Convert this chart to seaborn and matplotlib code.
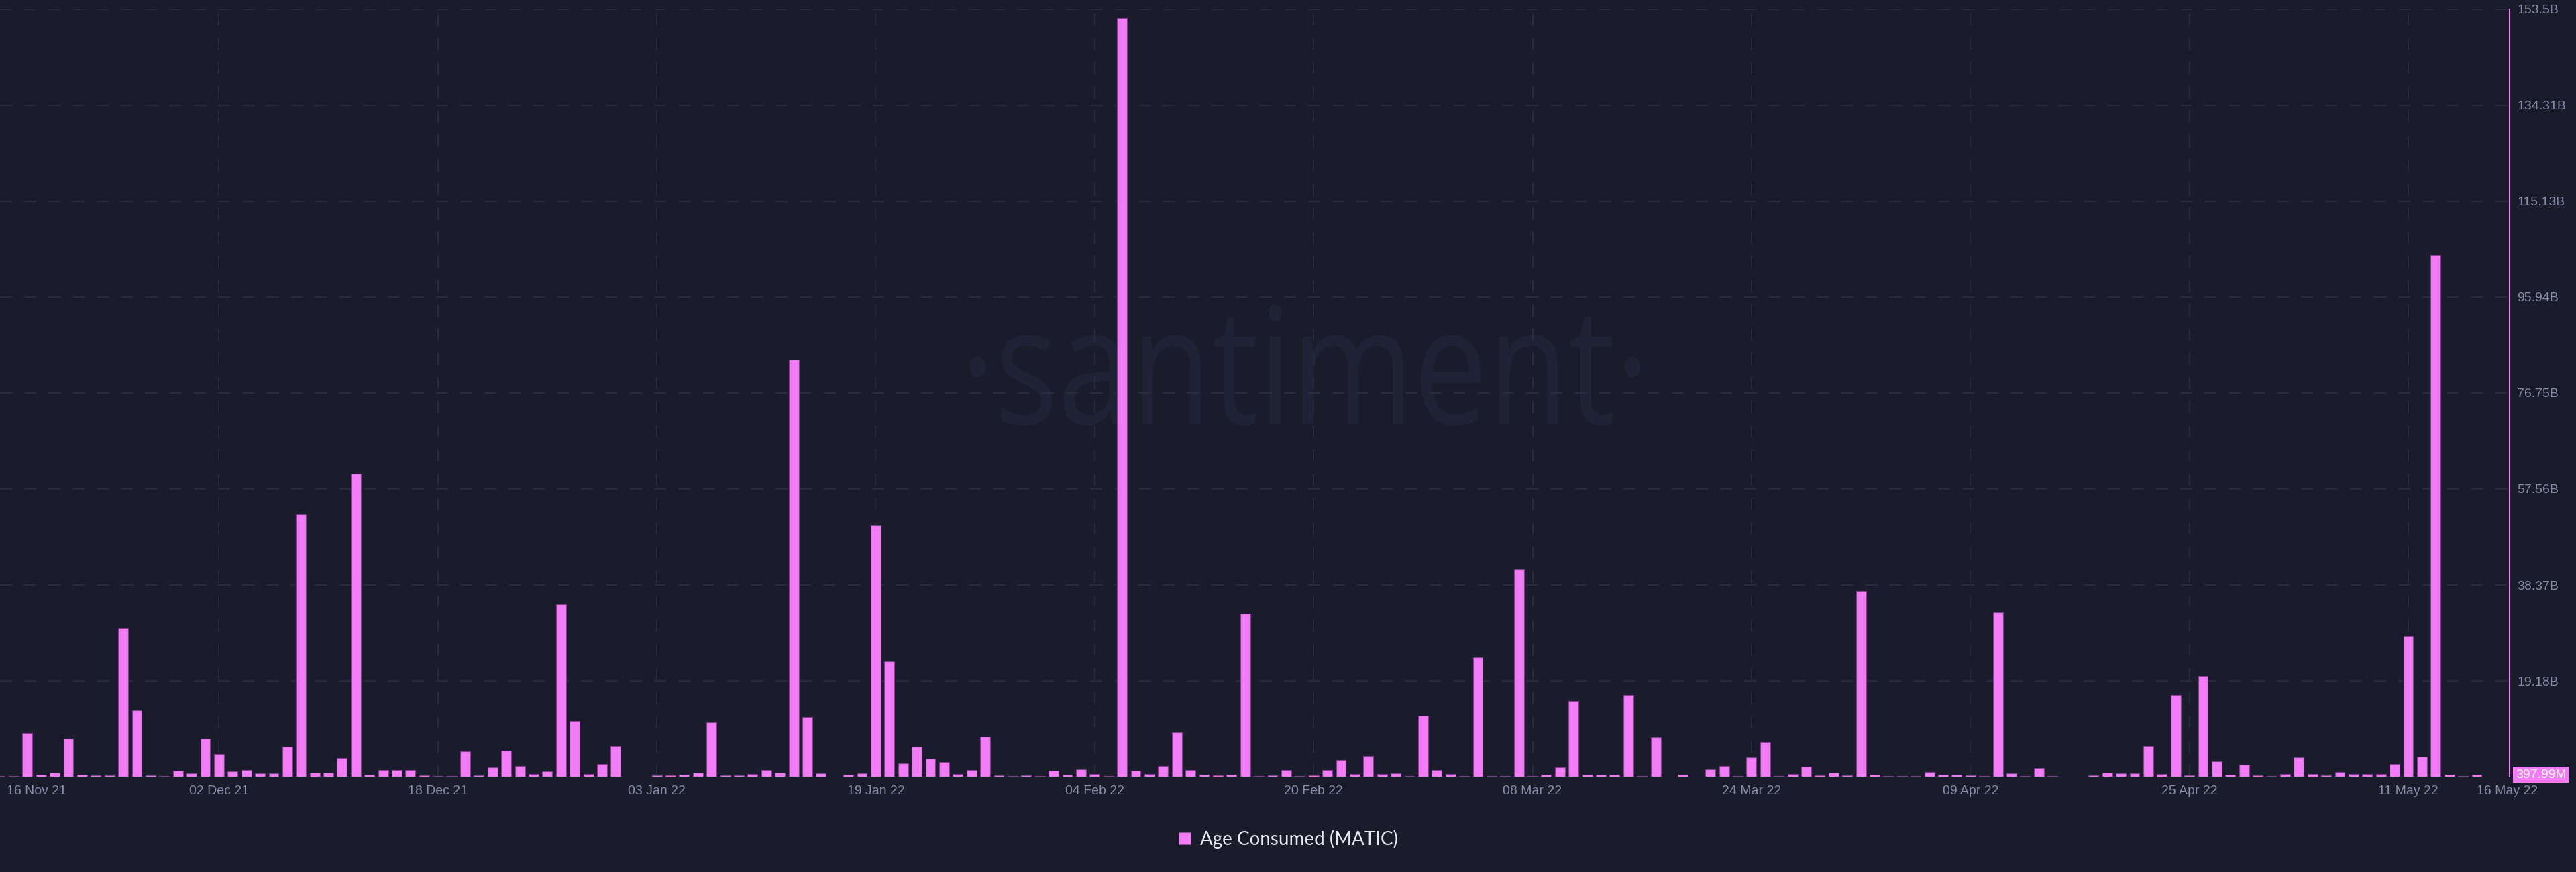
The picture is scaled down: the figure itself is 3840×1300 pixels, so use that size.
# Age Consumed (MATIC) daily bars, Santiment dark style
import pandas as pd
import seaborn as sns
import matplotlib
matplotlib.use("Agg")
from matplotlib import pyplot as plt
from matplotlib.lines import Line2D
from matplotlib.textpath import TextPath
from matplotlib.patches import PathPatch
from matplotlib.font_manager import FontProperties
from matplotlib.transforms import ScaledTranslation, Affine2D, IdentityTransform

# one bar per day, 16 Nov 21 .. 16 May 22, values in billions
dates = pd.date_range("2021-11-16", "2022-05-16", freq="D").strftime("%Y-%m-%d")
age_consumed = [
    0.2, 0.2, 8.7, 0.36, 0.85, 7.6, 0.4, 0.22, 0.3, 29.8,
    13.3, 0.3, 0.2, 1.16, 0.67, 7.7, 4.5, 1.07, 1.34, 0.71,
    0.71, 6.0, 52.4, 0.76, 0.76, 3.8, 60.6, 0.45, 1.4, 1.4,
    1.4, 0.3, 0.1, 0.1, 5.1, 0.27, 1.9, 5.2, 2.1, 0.58,
    1.03, 34.5, 11.1, 0.54, 2.6, 6.2, 0.05, 0.05, 0.22, 0.22,
    0.36, 0.85, 10.9, 0.31, 0.22, 0.58, 1.38, 0.85, 83.5, 12.0,
    0.71, 0.04, 0.4, 0.63, 50.3, 23.1, 2.7, 6.1, 3.6, 3.0,
    0.54, 1.3, 8.0, 0.22, 0.18, 0.31, 0.18, 1.16, 0.36, 1.43,
    0.49, 0.09, 151.8, 1.16, 0.49, 2.1, 8.9, 1.3, 0.45, 0.22,
    0.36, 32.6, 0.18, 0.31, 1.3, 0.18, 0.22, 1.38, 3.4, 0.58,
    4.15, 0.58, 0.67, 0.09, 12.2, 1.38, 0.49, 0.13, 23.9, 0.09,
    0.09, 41.5, 0.18, 0.4, 1.9, 15.1, 0.36, 0.45, 0.45, 16.4,
    0.09, 7.9, 0.04, 0.45, 0.0, 1.47, 2.1, 0.18, 3.9, 7.0,
    0.13, 0.49, 2.0, 0.31, 0.76, 0.22, 37.2, 0.36, 0.09, 0.09,
    0.09, 0.9, 0.36, 0.45, 0.22, 0.09, 32.9, 0.63, 0.09, 1.8,
    0.09, 0.0, 0.04, 0.22, 0.76, 0.71, 0.63, 6.2, 0.49, 16.4,
    0.27, 20.1, 3.1, 0.4, 2.4, 0.27, 0.18, 0.49, 3.9, 0.49,
    0.22, 0.98, 0.54, 0.49, 0.58, 2.5, 28.2, 4.0, 104.4, 0.45,
    0.13, 0.398,
]

tick_dates = ["2021-11-16", "2021-12-02", "2021-12-18", "2022-01-03", "2022-01-19",
              "2022-02-04", "2022-02-20", "2022-03-08", "2022-03-24", "2022-04-09",
              "2022-04-25", "2022-05-11", "2022-05-16"]
tick_labels = ["16 Nov 21", "02 Dec 21", "18 Dec 21", "03 Jan 22", "19 Jan 22",
               "04 Feb 22", "20 Feb 22", "08 Mar 22", "24 Mar 22", "09 Apr 22",
               "25 Apr 22", "11 May 22", "16 May 22"]

y_max = 153.5
y_tick_labels = ["19.18B", "38.37B", "57.56B", "76.75B",
                 "95.94B", "115.13B", "134.31B", "153.5B"]
last_label = "397.99M"

BG = "#1a1c2c"
PINK = "#f27cf5"
EDGE = "#7d3f8a"
GRID = "#2a2d3f"
TICK = "#868da6"
WM = "#202335"

sns.set_style("dark", rc={"axes.facecolor": BG, "figure.facecolor": BG})
plt.rcParams["font.family"] = ["Liberation Sans", "DejaVu Sans"]

df = pd.DataFrame({"Date": dates, "Age": age_consumed})

fig = plt.figure(figsize=(38.4, 13), dpi=100, facecolor=BG)
ax = fig.add_axes([0, 0.1092, 0.9742, 0.8801])
ax.set_facecolor(BG)

sns.barplot(data=df, x="Date", y="Age", color=PINK, saturation=1,
            width=0.73, edgecolor=EDGE, linewidth=0.8, ax=ax, zorder=3)

n = len(age_consumed)
ax.set_xlim(0, n + 1.4)
ax.set_ylim(0, y_max)
ax.set_xlabel("")
ax.set_ylabel("")

# y axis on the right
ax.yaxis.tick_right()
ax.set_yticks([y_max * k / 8 for k in range(1, 9)], y_tick_labels)
ax.tick_params(axis="y", length=0, pad=8, labelsize=14, labelcolor=TICK)

# date ticks
date_list = list(df["Date"])
pos = [date_list.index(d) for d in tick_dates]
ax.set_xticks(pos, tick_labels)
ax.tick_params(axis="x", length=0, pad=9, labelsize=14, labelcolor=TICK)
xl = ax.get_xticklabels()
xl[0].set_ha("left")
xl[0].set_transform(xl[0].get_transform() + ScaledTranslation(0.1, 0, fig.dpi_scale_trans))
xl[-1].set_ha("left")

ax.set_axisbelow(True)
ax.grid(False)
ax.yaxis.grid(True, which="major", color=GRID, linestyle=(0, (10, 10)), linewidth=1.3)
for p in pos[1:-1]:
    ax.axvline(p, color=GRID, linestyle=(0, (10, 10)), linewidth=1.3, zorder=0.5)

for side in ["top", "left", "bottom"]:
    ax.spines[side].set_visible(False)
ax.spines["right"].set_color(PINK)
ax.spines["right"].set_linewidth(1.5)

# last value marker on the axis
ax.annotate(last_label, xy=(1, age_consumed[-1]), xycoords=("axes fraction", "data"),
            xytext=(9, 0), textcoords="offset pixels", ha="left", va="center",
            color="white", fontsize=14,
            bbox=dict(boxstyle="square,pad=0.2", fc=PINK, ec="none"),
            annotation_clip=False)

# watermark, condensed Open Sans, placed in figure pixels
wm_path = TextPath((0, 0), "·santiment·", size=243,
                   prop=FontProperties(family=["Open Sans", "DejaVu Sans"]))
ext = wm_path.get_extents()
wm_tr = Affine2D().translate(-ext.x0, 0).scale(999 / ext.width, 1).translate(1446, 1300 - 632)
ax.add_artist(PathPatch(wm_path, transform=wm_tr + IdentityTransform(),
                        fc=WM, ec="none", zorder=0.2))

handle = Line2D([], [], marker="s", linestyle="none", markersize=13,
                markerfacecolor=PINK, markeredgecolor="none")
fig.legend([handle], ["Age Consumed (MATIC)"], loc="center",
           bbox_to_anchor=(0.5, 0.0377), frameon=False, labelcolor="#e6e7ef",
           handlelength=0.7, handletextpad=0.5,
           prop={"family": ["Lato", "DejaVu Sans"], "size": 20})

fig.savefig("out.png", dpi=100, facecolor=BG)
